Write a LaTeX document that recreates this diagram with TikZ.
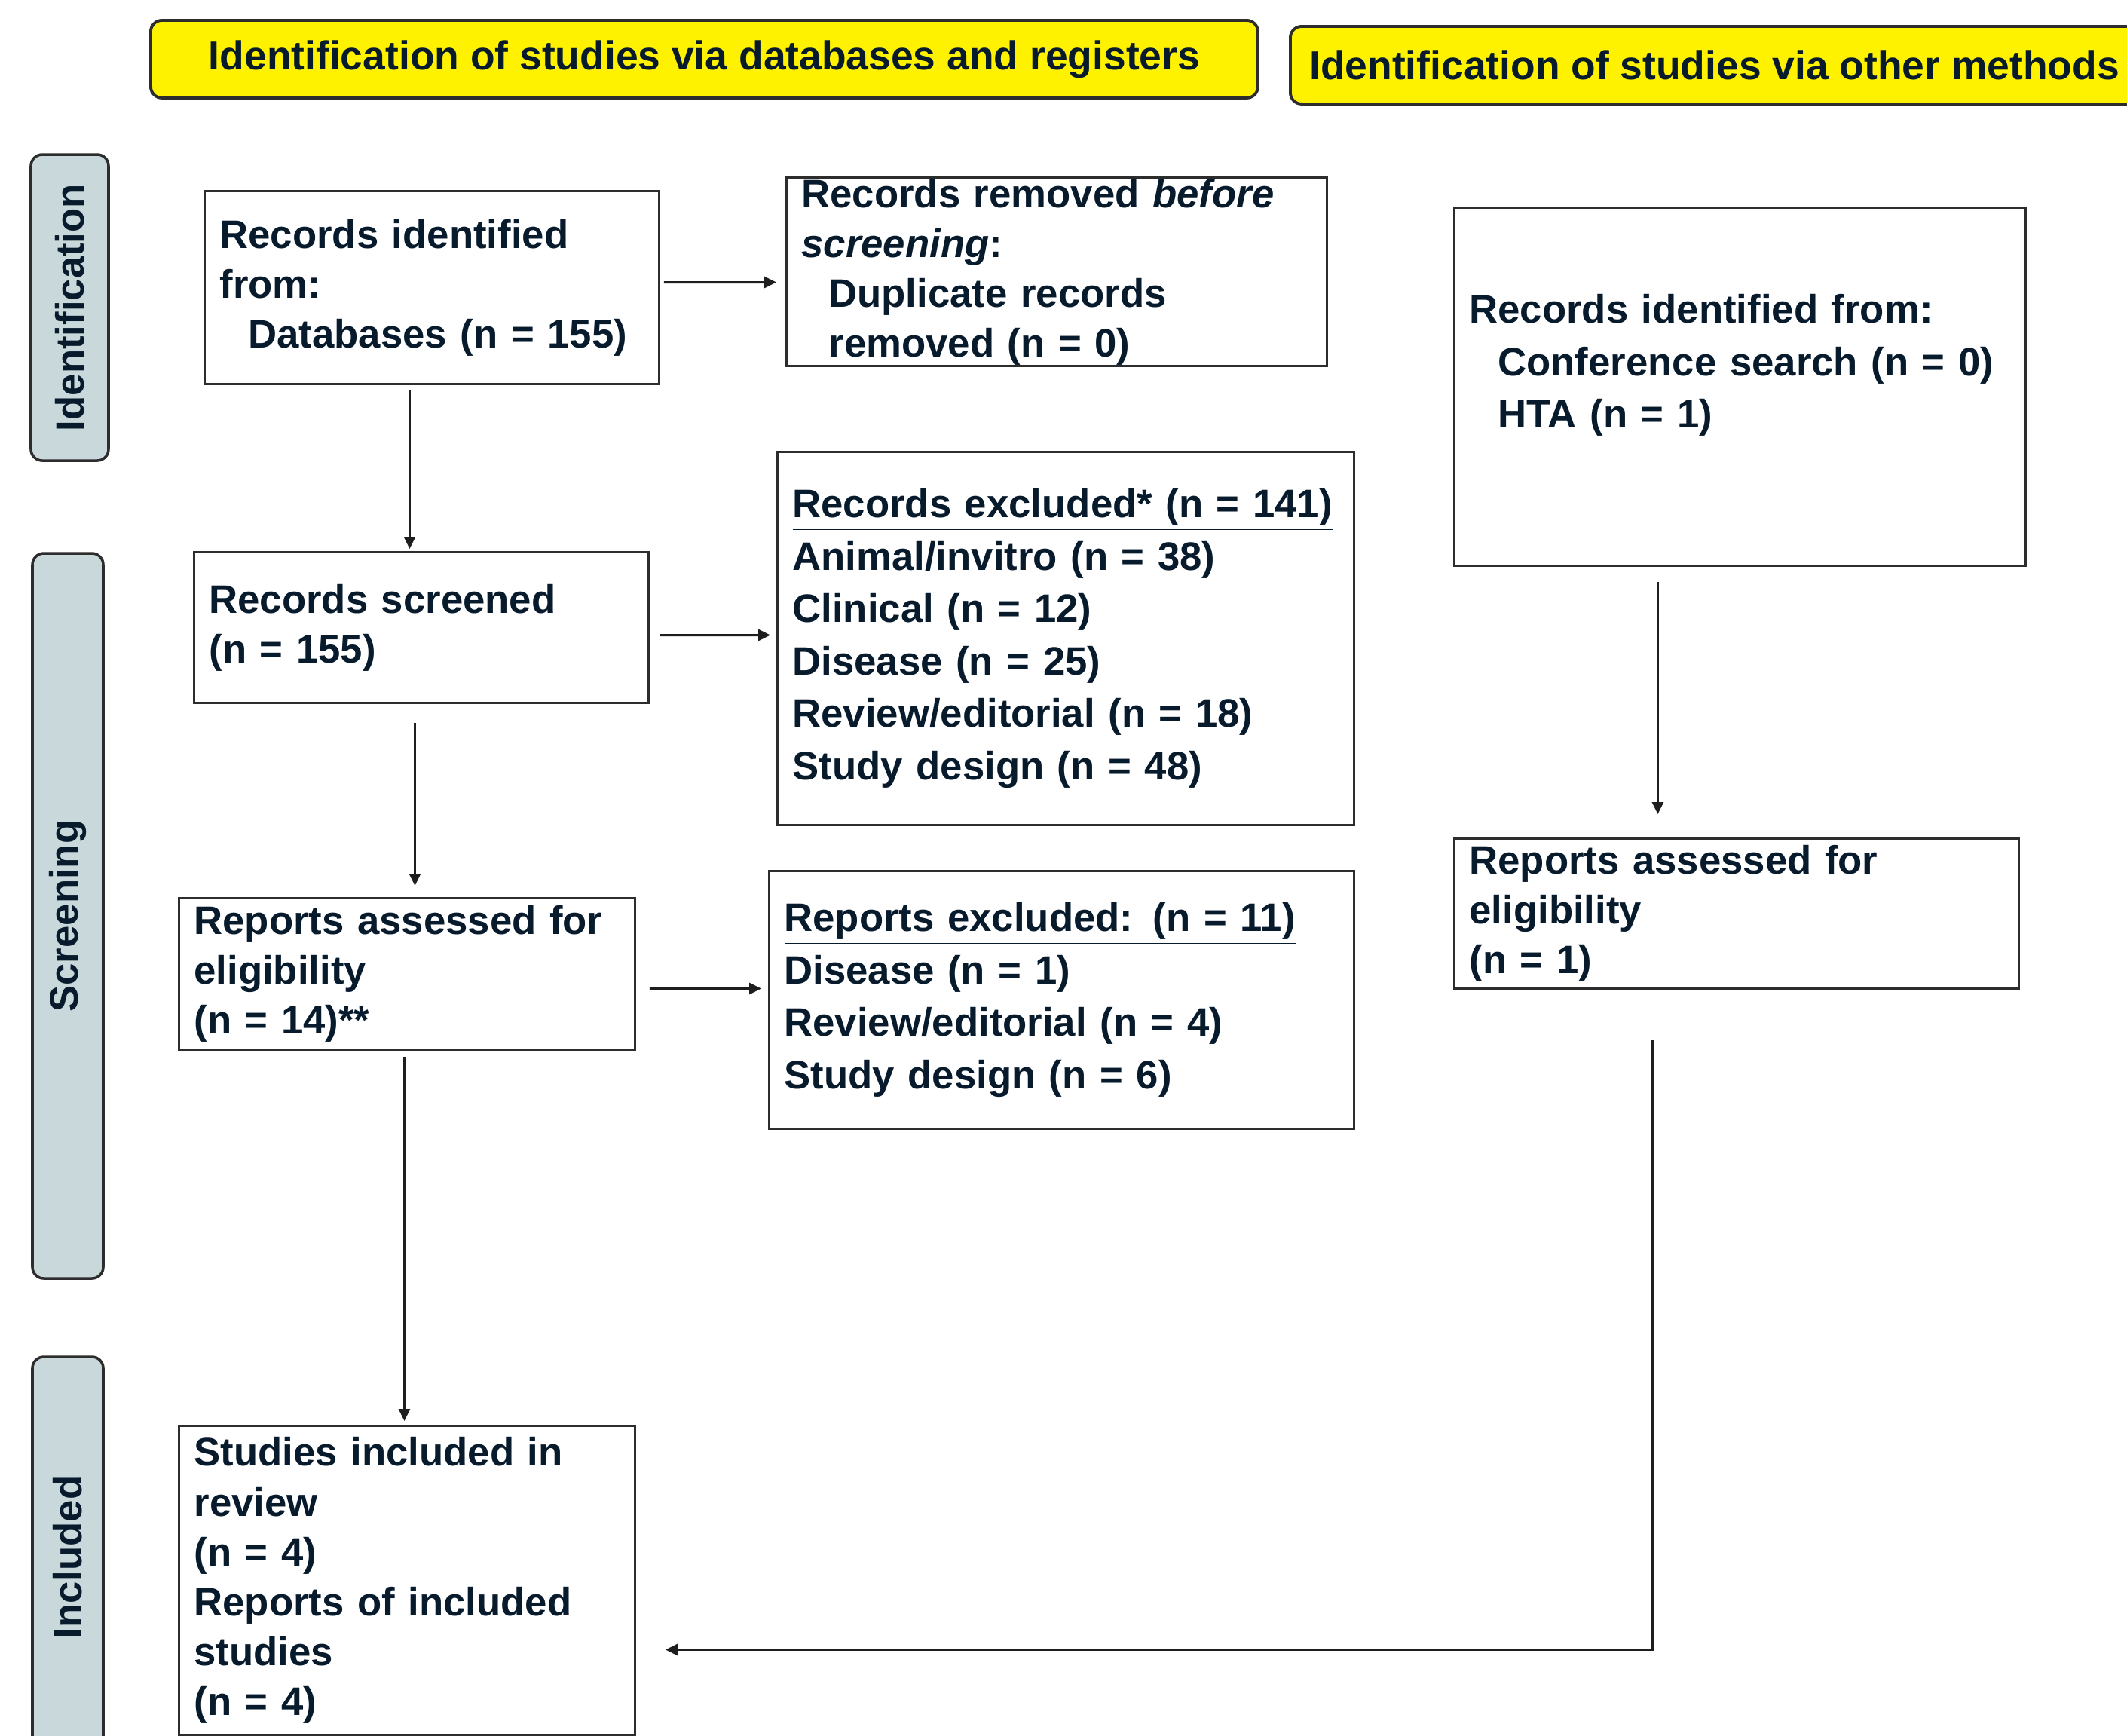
\documentclass[tikz,border=0pt]{standalone}
\usepackage{fontspec}
\setmainfont{Liberation Sans}
\usetikzlibrary{arrows.meta,calc}
\definecolor{navytext}{RGB}{8,27,45}
\definecolor{framegray}{RGB}{45,45,45}
\definecolor{arrowgray}{RGB}{30,30,30}
\definecolor{hdryellow}{RGB}{255,242,0}
\definecolor{tabgray}{RGB}{201,216,218}
\begin{document}
\begin{tikzpicture}[
box/.style={draw=framegray,line width=0.85pt,anchor=north west,inner xsep=0.2cm,inner ysep=0pt,align=left,text=navytext,font=\bfseries\fontsize{15pt}{18.8pt}\selectfont},
listbox/.style={box,font=\bfseries\fontsize{15pt}{19.8pt}\selectfont},
header/.style={draw=framegray,fill=hdryellow,line width=1.1pt,rounded corners=0.15cm,anchor=north west,inner sep=0pt,text=navytext,font=\bfseries\fontsize{15.2pt}{18pt}\selectfont},
tab/.style={draw=framegray,fill=tabgray,line width=1pt,rounded corners=0.15cm,rotate=90,inner sep=0pt,text=navytext,font=\bfseries\fontsize{15pt}{18pt}\selectfont},
arr/.style={draw=arrowgray,line width=0.85pt,-{Triangle[length=0.16cm,width=0.15cm]}}]
\useasboundingbox (0,0) rectangle (28.22,-23.02);
\clip (0,0) rectangle (28.22,-23.02);
\node[header,minimum width=14.69cm,minimum height=1.03cm] (hdb) at (1.98,-0.25) {Identification of studies via databases and registers};
\node[header,minimum width=11.25cm,minimum height=1.03cm] (hother) at (17.10,-0.33) {Identification of studies via other methods};
\foreach \tname/\cx/\cy/\tlen/\twd/\tabtext in {tabid/0.925/-4.08/4.06/1.03/Identification,tabscr/0.90/-12.15/9.62/0.94/Screening,tabinc/0.90/-20.66/5.32/0.94/Included}
	\node[tab,minimum width=\tlen cm,minimum height=\twd cm] (\tname) at (\cx,\cy) {\tabtext};
\node[box,text width=5.63cm,minimum height=2.56cm] (db) at (2.70,-2.52) {Records identified\\from:\\\hspace*{0.38cm}Databases (n = 155)};
\node[box,text width=6.77cm,minimum height=2.50cm] (removed) at (10.42,-2.34) {Records removed \textit{before}\\\textit{screening}:\\\hspace*{0.36cm}Duplicate records\\\hspace*{0.36cm}removed (n = 0)};
\node[box,text width=5.63cm,minimum height=2.00cm] (screened) at (2.56,-7.31) {Records screened\\(n = 155)};
\node[listbox,text width=7.25cm,minimum height=4.95cm] (excl) at (10.30,-5.98) {\underline{Records excluded* (n = 141)}\\Animal/invitro (n = 38)\\Clinical (n = 12)\\Disease (n = 25)\\Review/editorial (n = 18)\\Study design (n = 48)};
\node[box,text width=5.65cm,minimum height=2.01cm] (assessed) at (2.36,-11.90) {Reports assessed for\\eligibility\\(n = 14)**};
\node[listbox,text width=7.36cm,minimum height=3.42cm] (rexcl) at (10.19,-11.54) {\underline{Reports excluded: (n = 11)}\\Disease (n = 1)\\Review/editorial (n = 4)\\Study design (n = 6)};
\node[box,text width=5.65cm,minimum height=4.10cm] (included) at (2.36,-18.90) {Studies included in\\review\\(n = 4)\\Reports of included\\studies\\(n = 4)};
\node[listbox,text width=7.18cm,minimum height=4.75cm,text depth=59pt] (other) at (19.28,-2.74) {Records identified from:\\\hspace*{0.38cm}Conference search (n = 0)\\\hspace*{0.38cm}HTA (n = 1)};
\node[box,text width=7.09cm,minimum height=1.99cm] (oassessed) at (19.28,-11.11) {Reports assessed for\\eligibility\\(n = 1)};
\draw[arr] ([shift={(0.05,0.07)}]db.east) -- ([shift={(-0.12,-0.14)}]removed.west);
\draw[arr] ([shift={(-0.295,-0.07)}]db.south) -- ([shift={(-0.155,0.03)}]screened.north);
\draw[arr] ([shift={(0.14,-0.10)}]screened.east) -- ([shift={(-0.08,0.045)}]excl.west);
\draw[arr] ([shift={(-0.085,-0.25)}]screened.south) -- ([shift={(0.105,0.15)}]assessed.north);
\draw[arr] ([shift={(0.18,-0.195)}]assessed.east) -- ([shift={(-0.09,0.15)}]rexcl.west);
\draw[arr] ([shift={(-0.035,-0.08)}]assessed.south) -- ([shift={(-0.035,0.05)}]included.north);
\draw[arr] ([shift={(-1.09,-0.20)}]other.south) -- ([shift={(-1.045,0.31)}]oassessed.north);
\draw[arr] ([shift={(-1.115,-0.67)}]oassessed.south) |- ([shift={(0.39,-0.92)}]included.east);
\end{tikzpicture}
\end{document}
